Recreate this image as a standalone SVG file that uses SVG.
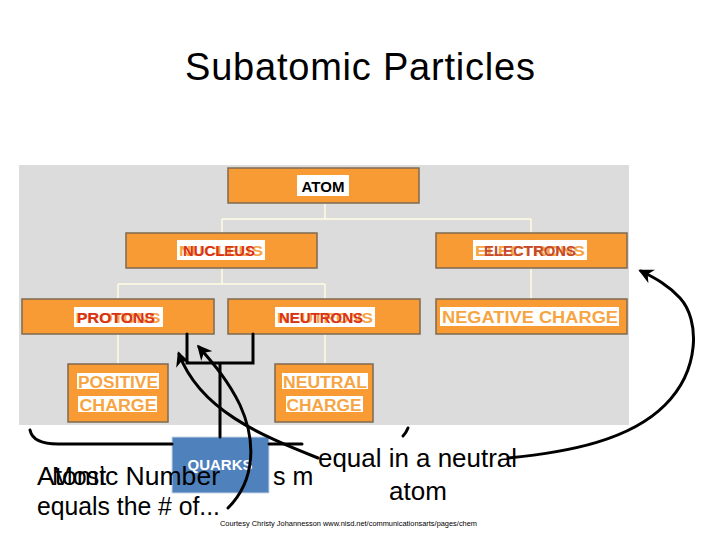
<svg xmlns="http://www.w3.org/2000/svg" width="720" height="540" viewBox="0 0 720 540">
<defs>
<style>
.box{fill:#f99b34;stroke:#7d6a52;stroke-width:1.5}
.hl{fill:#ffffff}
.conn{stroke:#fffbe3;stroke-width:1.5;fill:none}
.ink{stroke:#000;stroke-width:3;fill:none;stroke-linecap:round}
.lbl{font-family:"Liberation Sans",Arial,sans-serif;font-weight:bold;text-anchor:middle}
.red{fill:#d9321b}
.org{fill:#f7a443}
.body{font-family:"Liberation Sans",Arial,sans-serif;fill:#000}
</style>
<marker id="ah" viewBox="0 0 10 10" refX="8" refY="5" markerWidth="5" markerHeight="5" orient="auto" markerUnits="strokeWidth">
<path d="M0,0 L10,5 L0,10 L3,5 Z" fill="#000"/>
</marker>
</defs>
<rect width="720" height="540" fill="#fff"/>
<text x="360" y="80" font-family="Liberation Sans, Arial, sans-serif" font-size="38" text-anchor="middle" textLength="350" fill="#000">Subatomic Particles</text>
<rect x="19" y="165" width="610" height="260" fill="#dcdcdc"/>
<g id="tree-connectors">
<path class="conn" d="M325,203 V219 M222,219 H531 M222,219 V233 M531,219 V233 M222,268 V284 M118,284 H325 M118,284 V299 M325,284 V299 M531,268 V299 M118,334 V364 M325,334 V364"/>
</g>
<g id="atom">
<rect class="box" x="228" y="168" width="191" height="35"/>
<rect class="hl" x="297" y="175" width="52" height="21"/>
<text class="lbl" x="323" y="192" font-size="15" fill="#000">ATOM</text>
</g>
<g id="nucleus">
<rect class="box" x="126" y="233" width="191" height="35"/>
<rect class="hl" x="177" y="240" width="88" height="20"/>
<text class="lbl org" x="221" y="256" font-size="15" textLength="84" lengthAdjust="spacingAndGlyphs">NUCLEUS</text>
<text class="lbl red" x="219" y="256" font-size="14" textLength="72" lengthAdjust="spacingAndGlyphs">NUCLEUS</text>
</g>
<g id="electrons">
<rect class="box" x="436" y="233" width="191" height="35"/>
<rect class="hl" x="473" y="240" width="114" height="20"/>
<text class="lbl org" x="530" y="256" font-size="15" textLength="110" lengthAdjust="spacingAndGlyphs">ELECTRONS</text>
<text class="lbl" x="530" y="256" font-size="14" fill="#c4492f" textLength="92" lengthAdjust="spacingAndGlyphs">ELECTRONS</text>
</g>
<g id="protons">
<rect class="box" x="22" y="299" width="192" height="35"/>
<rect class="hl" x="74" y="307" width="89" height="20"/>
<text class="lbl org" x="118" y="323" font-size="15" textLength="85" lengthAdjust="spacingAndGlyphs">PROTONS</text>
<text class="lbl red" x="116" y="323" font-size="14" textLength="78" lengthAdjust="spacingAndGlyphs">PROTONS</text>
</g>
<g id="neutrons">
<rect class="box" x="228" y="299" width="192" height="35"/>
<rect class="hl" x="275" y="307" width="100" height="20"/>
<text class="lbl org" x="325" y="323" font-size="15" textLength="96" lengthAdjust="spacingAndGlyphs">NEUTRONS</text>
<text class="lbl red" x="321" y="323" font-size="14" textLength="84" lengthAdjust="spacingAndGlyphs">NEUTRONS</text>
</g>
<g id="negative-charge">
<rect class="box" x="436" y="299" width="191" height="35"/>
<rect class="hl" x="440" y="307" width="179" height="19"/>
<text class="lbl org" x="530" y="323" font-size="16" textLength="176" lengthAdjust="spacingAndGlyphs">NEGATIVE CHARGE</text>
</g>
<g id="positive-charge">
<rect class="box" x="68" y="364" width="100" height="58"/>
<rect class="hl" x="77" y="373" width="82" height="16"/>
<rect class="hl" x="78" y="396" width="79" height="16"/>
<text class="lbl org" x="118" y="388" font-size="16" textLength="80" lengthAdjust="spacingAndGlyphs">POSITIVE</text>
<text class="lbl org" x="118" y="411" font-size="16" textLength="77" lengthAdjust="spacingAndGlyphs">CHARGE</text>
</g>
<g id="neutral-charge">
<rect class="box" x="275" y="364" width="98" height="58"/>
<rect class="hl" x="282" y="373" width="86" height="16"/>
<rect class="hl" x="286" y="396" width="77" height="16"/>
<text class="lbl org" x="325" y="388" font-size="16" textLength="84" lengthAdjust="spacingAndGlyphs">NEUTRAL</text>
<text class="lbl org" x="324" y="411" font-size="16" textLength="75" lengthAdjust="spacingAndGlyphs">CHARGE</text>
</g>
<g id="quarks">
<rect x="172" y="437" width="97" height="56" fill="#4f81bd" stroke="#c9d5e6" stroke-width="1"/>
<text x="220" y="470" font-family="Liberation Sans, Arial, sans-serif" font-size="15" font-weight="bold" fill="#fff" text-anchor="middle">QUARKS</text>
</g>
<g id="notes">
<text class="body" x="37" y="485" font-size="25" textLength="183" lengthAdjust="spacingAndGlyphs">Atomic Number</text>
<text class="body" x="52" y="485" font-size="25">Most</text>
<text class="body" x="273" y="485" font-size="25">s m</text>
<text class="body" x="37" y="515" font-size="25" textLength="183" lengthAdjust="spacingAndGlyphs">equals the # of...</text>
<text class="body" x="318" y="467" font-size="26" textLength="199" lengthAdjust="spacingAndGlyphs">equal in a neutral</text>
<text class="body" x="418" y="500" font-size="26" text-anchor="middle">atom</text>
<text class="body" x="220" y="526" font-size="7" textLength="257" lengthAdjust="spacingAndGlyphs">Courtesy Christy Johannesson www.nisd.net/communicationsarts/pages/chem</text>
</g>
<g id="ink-connectors">
<path class="ink" d="M187,334 V363 H253 V334 M220,363 V437"/>
<path class="ink" d="M30,430 C32,440 42,444 58,444 L172,444"/>
<path class="ink" d="M269,444 H302"/>
<path class="ink" d="M403,436 Q406,433 408,428"/>
<path class="ink" d="M318,458 C260,435 200,410 179,354" marker-end="url(#ah)"/>
<path class="ink" d="M228,508 C256,480 256,440 240,405 C228,380 212,362 199,347" marker-end="url(#ah)"/>
<path class="ink" d="M508,458 C570,452 630,440 665,405 C700,370 700,320 680,298 C668,285 655,278 641,271" marker-end="url(#ah)"/>
</g>
</svg>
